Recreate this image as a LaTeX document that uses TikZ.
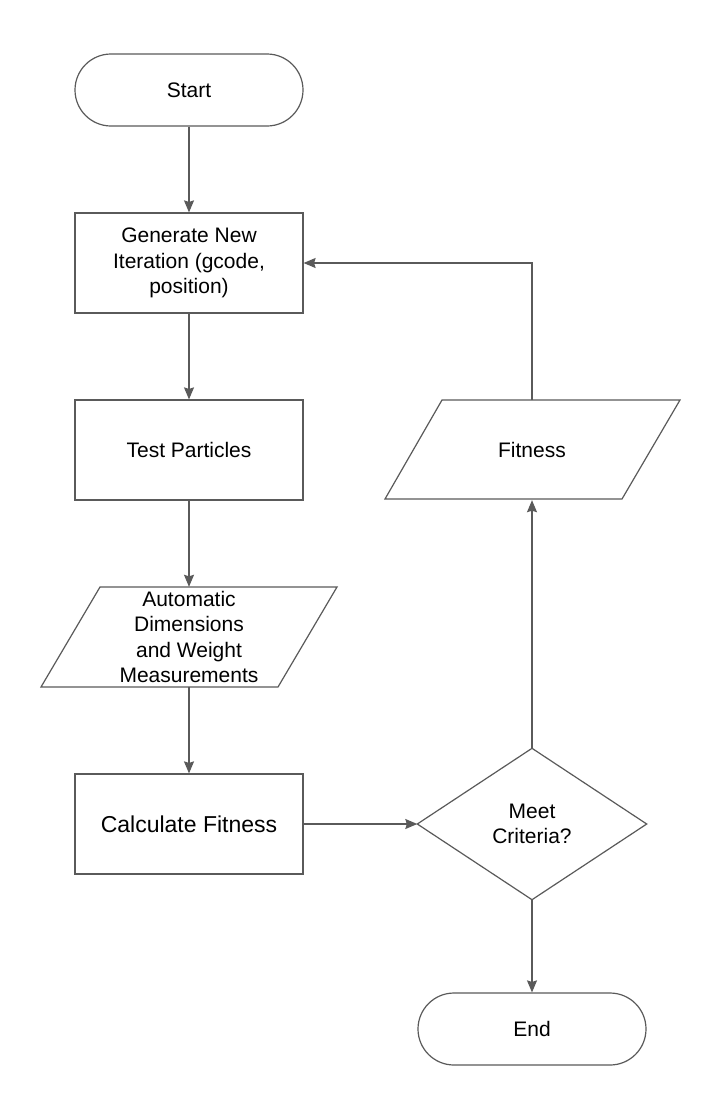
\documentclass[tikz,border=0pt]{standalone}
\usepackage{fontspec}
\setmainfont{Liberation Sans}
\usetikzlibrary{arrows.meta,positioning}
\definecolor{linegray}{HTML}{5A5A5A}
\begin{document}
\begin{tikzpicture}[x=1pt,y=-1pt,
  every node/.style={font=\fontsize{21}{25.5}\selectfont, align=center, inner sep=0pt},
  procbox/.style={draw=linegray, line width=1.2pt, minimum width=228pt, minimum height=100pt},
  termbox/.style={draw=linegray, line width=1.2pt, rounded corners=36pt, minimum width=228pt, minimum height=72pt},
  ioholder/.style={minimum width=237pt, minimum height=100pt},
  decholder/.style={minimum width=229pt, minimum height=151pt},
  shapeline/.style={draw=linegray, line width=1.2pt, line join=miter},
  flow/.style={draw=linegray, line width=1.2pt, -{Stealth[inset=1.5pt,length=12pt,width=10pt]}}
]
\useasboundingbox (0,0) rectangle (712,1095);
\fill[white] (0,0) rectangle (712,1095);

\node[termbox] (start) at (189,90) {Start};
\node[procbox] (gen) at (189,263) {Generate New\\Iteration (gcode,\\position)};
\node[procbox] (test) at (189,450) {Test Particles};
\node[ioholder] (auto) at (189,637) {Automatic\\Dimensions\\and Weight\\Measurements};
\draw[shapeline] (100,587) -- (337,587) -- (278,687) -- (41,687) -- cycle;
\node[procbox, font=\fontsize{23}{27}\selectfont] (calc) at (189,824) {Calculate Fitness};
\node[decholder] (dec) at (532,824) {Meet\\Criteria?};
\draw[shapeline] (dec.north) -- (dec.east) -- (dec.south) -- (dec.west) -- cycle;
\node[termbox] (end) at (532,1029) {End};
\node[ioholder] (fit) at (532,450) {Fitness};
\draw[shapeline] (442,400) -- (680,400) -- (622,499) -- (385,499) -- cycle;

\draw[flow] (start.south) -- (gen.north);
\draw[flow] (gen.south) -- (test.north);
\draw[flow] (test.south) -- (auto.north);
\draw[flow] (auto.south) -- (calc.north);
\draw[flow] (calc.east) -- (dec.west);
\draw[flow] (dec.south) -- (end.north);
\draw[flow] (dec.north) -- (fit.south);
\draw[flow] (fit.north) |- (gen.east);
\end{tikzpicture}
\end{document}
